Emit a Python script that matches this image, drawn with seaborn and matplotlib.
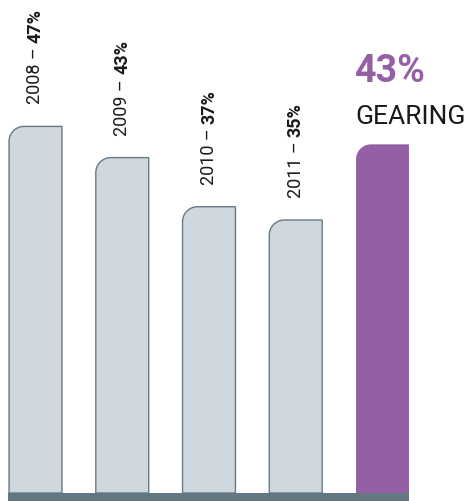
import matplotlib
matplotlib.use("Agg")
import matplotlib.pyplot as plt
import seaborn as sns
import pandas as pd
from matplotlib.path import Path
from matplotlib.patches import PathPatch, Rectangle

# ---- data ----
years = ["2008", "2009", "2010", "2011", "Current"]
bar_heights = [47, 43, 36.7, 35, 44.7]          # drawn heights
label_pct = ["47%", "43%", "37%", "35%"]
headline_value = "43%"
headline_label = "GEARING"

sns.set_theme(style="white")
plt.rcParams["font.family"] = ["Roboto", "DejaVu Sans"]

W, H, DPI = 465, 502, 100
fig = plt.figure(figsize=(W / DPI, H / DPI), dpi=DPI)
ax = fig.add_axes([0, 0, 1, 1])

px_x = 86.75  # pixels per category
px_y = 7.8    # pixels per percent
x0_px, y0_px = 35.5, 8.0

df = pd.DataFrame({"year": years, "value": bar_heights})
gray_fill, gray_edge = "#cfd7df", "#667a86"
purple = "#955fa5"
palette = [gray_fill] * 4 + [purple]
sns.barplot(data=df, x="year", y="value", hue="year", palette=palette,
            width=0.61, legend=False, ax=ax, saturation=1)

ax.set_xlim(-x0_px / px_x, (W - x0_px) / px_x)
ax.set_ylim(-y0_px / px_y, (H - y0_px) / px_y)
ax.axis("off")

rx = 15 / px_x
ry = 15 / px_y
k = 0.552
patches = list(ax.patches)
lefts, rights = [], []
for i, p in enumerate(patches):
    x0 = p.get_x(); w = p.get_width(); x1 = x0 + w
    y0 = p.get_y(); y1 = y0 + p.get_height()
    fc = p.get_facecolor()
    p.remove()
    verts = [(x0, y0), (x0, y1 - ry),
             (x0, y1 - ry + k * ry), (x0 + rx - k * rx, y1), (x0 + rx, y1),
             (x1, y1), (x1, y0), (x0, y0)]
    codes = [Path.MOVETO, Path.LINETO, Path.CURVE4, Path.CURVE4, Path.CURVE4,
             Path.LINETO, Path.LINETO, Path.CLOSEPOLY]
    is_hl = i == len(patches) - 1
    pp = PathPatch(Path(verts, codes), facecolor=fc,
                   edgecolor=("none" if is_hl else gray_edge),
                   linewidth=(0 if is_hl else 1.0), zorder=2)
    ax.add_patch(pp)
    lefts.append(x0); rights.append(x1)

    if not is_hl:
        t1 = ax.annotate(f"{years[i]} – ", xy=(x0 + w / 2, y1), xytext=(0, 16.5),
                         textcoords="offset points", rotation=90,
                         ha="center", va="bottom", fontsize=13,
                         color="#1a1a1a")
        ax.annotate(label_pct[i], xy=(0.5, 1.0), xycoords=t1, rotation=90,
                    ha="center", va="bottom", fontsize=13, fontweight="bold",
                    color="#1a1a1a")
    else:
        ax.annotate(headline_label, xy=(x0, y1), xytext=(-0.5, 12),
                    textcoords="offset points", ha="left", va="bottom",
                    fontsize=19, color="#1a1a1a")
        ax.annotate(headline_value, xy=(x0, y1), xytext=(-1, 40),
                    textcoords="offset points", ha="left", va="bottom",
                    fontsize=27, fontweight="bold", color=purple)

# base band
ax.add_patch(Rectangle((min(lefts) - 1 / px_x, -y0_px / px_y),
                       max(rights) - min(lefts) + 1 / px_x, y0_px / px_y,
                       facecolor="#637782", edgecolor="none", zorder=3))

fig.savefig("out.png", dpi=DPI)
